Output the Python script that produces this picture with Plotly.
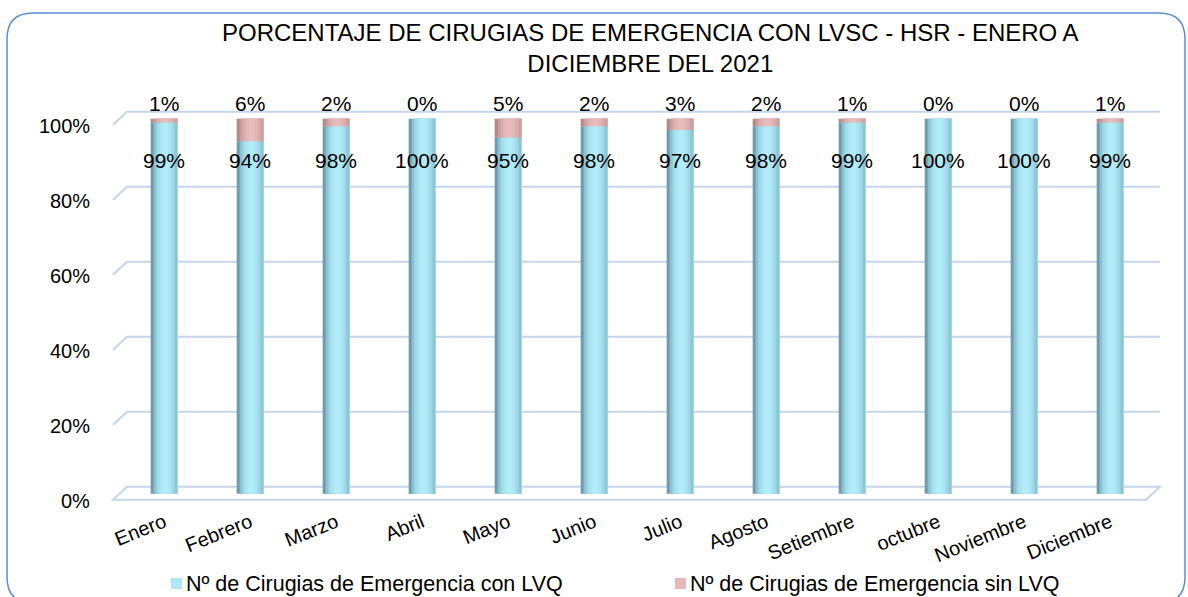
import plotly.graph_objects as go

# ---- data -------------------------------------------------------------
meses = ["Enero", "Febrero", "Marzo", "Abril", "Mayo", "Junio", "Julio",
         "Agosto", "Setiembre", "octubre", "Noviembre", "Diciembre"]
con_lvq = [99, 94, 98, 100, 95, 98, 97, 98, 99, 100, 100, 99]
sin_lvq = [1, 6, 2, 0, 5, 2, 3, 2, 1, 0, 0, 1]
y_ticks = [0, 20, 40, 60, 80, 100]
serie_nombres = ["Nº de Cirugias de Emergencia con LVQ",
                 "Nº de Cirugias de Emergencia sin LVQ"]
titulo = "PORCENTAJE DE CIRUGIAS DE EMERGENCIA CON LVSC - HSR - ENERO A<br>DICIEMBRE DEL 2021"

# ---- geometry / style ---------------------------------------------------
W, H = 1188, 597
ML, MR, MT, MB = 121, 35, 100, 92
Y_RANGE = [-3, 105]
PLOT_W = W - ML - MR
PLOT_H = H - MT - MB
PX_PER_UNIT = PLOT_H / (Y_RANGE[1] - Y_RANGE[0])
FONT = "Liberation Sans, Arial, sans-serif"
GRID = "#C6D6EA"


def px_x(px):
    """pixel column -> paper x"""
    return (px - ML) / PLOT_W


def px_y(py):
    """pixel row -> paper y"""
    return (H - MB - py) / PLOT_H


def du(px):
    """pixel distance -> y data units"""
    return px / PX_PER_UNIT


# cylinder-like shading: layered strips from dark left edge to light centre
azul = ["#6E9CAB", "#8CC2D2", "#A2DBEA", "#ACE6F5", "#B2EDFB",
        "#B1ECFA", "#ABE5F4", "#A0D8E7", "#8FC6D5"]
rosa = ["#B08888", "#CB9E9E", "#DAAEAE", "#E3B7B7", "#E8BDBD",
        "#E8BCBC", "#E3B6B6", "#DAADAD", "#CCA1A1"]
BAR_W = 0.31
n = len(azul)
sw = BAR_W / n

fig = go.Figure()
for i in range(n):
    off = -BAR_W / 2 + i * sw
    # each strip runs to the right edge; the next strip covers its remainder
    width = BAR_W - i * sw
    fig.add_trace(go.Bar(
        x=meses, y=con_lvq, base=[0] * len(meses), width=width, offset=off,
        marker=dict(color=azul[i], line=dict(width=0)),
        showlegend=False, hoverinfo="skip"))
    fig.add_trace(go.Bar(
        x=meses, y=sin_lvq, base=con_lvq, width=width, offset=off,
        marker=dict(color=rosa[i], line=dict(width=0)),
        showlegend=False, hoverinfo="skip"))

shapes = []
annotations = []

# 3D-style gridlines: slanted front edge then the back wall line
x_front, x_back, x_end = px_x(113), px_x(127), px_x(1160)
for v in y_ticks:
    back = v + du(7)
    front = v - du(6)
    if v == 0:
        path = (f"M {x_front},{front} L {x_back},{back} L {x_end},{back} "
                f"L {px_x(1146)},{front} Z")
    else:
        path = f"M {x_front},{front} L {x_back},{back} L {x_end},{back}"
    shapes.append(dict(type="path", xref="paper", yref="y", path=path,
                       line=dict(color=GRID, width=2), layer="below"))
    annotations.append(dict(x=0, xref="paper", y=v, yref="y",
                            text=f"{v}%", showarrow=False, xanchor="right",
                            xshift=-29, yshift=-7,
                            font=dict(size=20, color="#000000", family=FONT)))

# value labels
for m, a, r in zip(meses, con_lvq, sin_lvq):
    annotations.append(dict(x=m, y=89, text=f"{a}%", showarrow=False,
                            font=dict(size=21, color="#000000", family=FONT)))
    annotations.append(dict(x=m, y=a + r, text=f"{r}%", showarrow=False,
                            yanchor="bottom", yshift=2,
                            font=dict(size=21, color="#000000", family=FONT)))

# title
annotations.append(dict(x=px_x(650), xref="paper", y=px_y(48), yref="paper",
                        text=titulo, showarrow=False, xanchor="center",
                        yanchor="middle",
                        font=dict(size=24, color="#000000", family=FONT)))

# legend
for color, name, sx in zip(["#ADE8F8", "#E6B8B8"], serie_nombres, [171, 675]):
    shapes.append(dict(type="rect", xref="paper", yref="paper",
                       x0=px_x(sx), x1=px_x(sx + 11),
                       y0=px_y(589), y1=px_y(578),
                       fillcolor=color, line=dict(width=0)))
    annotations.append(dict(x=px_x(sx + 13), xref="paper", y=px_y(584),
                            yref="paper", text=name, showarrow=False,
                            xanchor="left", yanchor="middle",
                            font=dict(size=21.5, color="#000000", family=FONT)))

# rounded chart border
l, t, r, b, rad = 7, 13, 1185, 603, 26
border = (f"M {px_x(l)},{px_y(t + rad)} Q {px_x(l)},{px_y(t)} {px_x(l + rad)},{px_y(t)} "
          f"L {px_x(r - rad)},{px_y(t)} Q {px_x(r)},{px_y(t)} {px_x(r)},{px_y(t + rad)} "
          f"L {px_x(r)},{px_y(b - rad)} Q {px_x(r)},{px_y(b)} {px_x(r - rad)},{px_y(b)} "
          f"L {px_x(l + rad)},{px_y(b)} Q {px_x(l)},{px_y(b)} {px_x(l)},{px_y(b - rad)} Z")
shapes.append(dict(type="path", xref="paper", yref="paper", path=border,
                   line=dict(color="#5B8ED6", width=1.5), layer="below"))

fig.update_layout(
    width=W, height=H,
    margin=dict(l=ML, r=MR, t=MT, b=MB, pad=0),
    paper_bgcolor="#FFFFFF", plot_bgcolor="rgba(0,0,0,0)",
    barmode="overlay",
    showlegend=False,
    shapes=shapes,
    annotations=annotations,
    xaxis=dict(type="category", showgrid=False, zeroline=False,
               showline=False, ticks="", tickangle=-22, ticklabelstandoff=1,
               tickfont=dict(size=20, color="#000000", family=FONT)),
    yaxis=dict(range=Y_RANGE, showgrid=False, zeroline=False,
               showline=False, showticklabels=False, ticks=""),
    font=dict(family=FONT, color="#000000"),
)

fig.write_html("out.html")
